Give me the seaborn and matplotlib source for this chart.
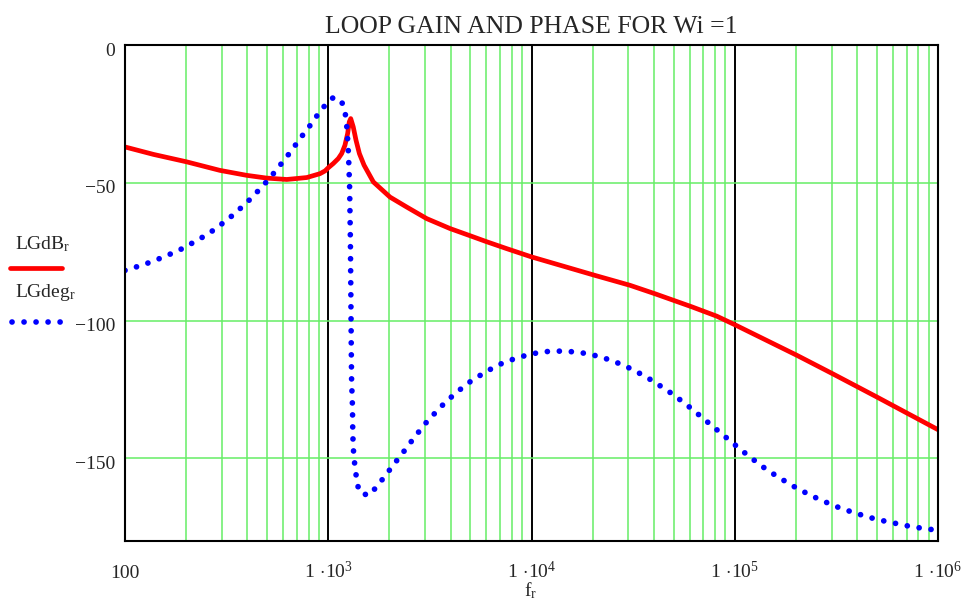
import numpy as np
import pandas as pd
import seaborn as sns
import matplotlib.pyplot as plt
from matplotlib.lines import Line2D
from matplotlib.transforms import ScaledTranslation
from matplotlib.ticker import LogLocator, FixedLocator, NullFormatter

# loop gain magnitude (dB)
f_db = [100, 138, 201, 293, 397, 498, 625, 784, 910, 964, 1002, 1059, 1121,
        1164, 1208, 1246, 1269, 1290, 1327, 1370, 1423, 1500, 1667, 2014, 2432,
        3050, 3971, 4980, 6020, 7550, 10000, 20500, 30500, 40600, 61400, 81500,
        100000, 202000, 303000, 499000, 1000000]
lg_db = [-37.0, -39.7, -42.4, -45.5, -47.3, -48.3, -48.8, -48.1, -46.7, -45.7,
         -44.5, -43.0, -41.2, -39.4, -36.4, -32.1, -27.9, -26.7, -29.7, -34.6,
         -39.4, -43.6, -49.7, -55.2, -58.8, -63.0, -66.6, -69.2, -71.4, -73.9,
         -76.9, -83.6, -87.2, -90.3, -95.0, -98.4, -101.5, -112.6, -119.3,
         -127.7, -139.6]

# loop phase (deg)
f_deg = [100, 114, 130, 148, 168, 190, 214, 240, 270, 301, 336, 372, 411, 451,
         496, 541, 590, 641, 696, 754, 820, 887, 964, 1064, 1169, 1214, 1233,
         1245, 1255, 1262, 1268, 1274, 1285, 1292, 1298, 1303, 1310, 1315, 1318,
         1320, 1325, 1335, 1355, 1380, 1417, 1570, 1731, 1879, 2043, 2221, 2413,
         2621, 2850, 3105, 3420, 3750, 4170, 4630, 5160, 5800, 6510, 7370, 8390,
         9530, 10870, 12450, 14320, 16430, 18760, 21390, 24330, 27660, 31280,
         35300, 39700, 44400, 49700, 55500, 61800, 68600, 76200, 84700, 94000,
         104400, 116400, 129800, 144800, 162200, 182300, 204800, 230800, 260300,
         295600, 336300, 382800, 434600, 496500, 564400, 647100, 738500, 841700,
         968300, 1000000]
lg_deg = [-81.8, -80.5, -79.1, -77.5, -75.8, -74.0, -71.9, -69.8, -67.4, -64.8,
          -62.0, -59.1, -56.1, -53.0, -49.7, -46.4, -42.9, -39.5, -35.9, -32.4,
          -28.9, -25.3, -21.9, -18.9, -20.9, -25.2, -29.5, -34.0, -38.4, -42.8,
          -47.3, -51.8, -70.8, -90.6, -110.5, -122.6, -126.8, -130.9, -135.7,
          -140.0, -144.4, -148.9, -153.3, -157.7, -162.1, -163.5, -160.4, -156.9,
          -153.4, -149.9, -146.5, -142.9, -139.5, -136.1, -132.9, -129.8, -126.8,
          -124.0, -121.4, -119.2, -117.0, -115.1, -113.7, -112.5, -111.6, -111.1,
          -111.1, -111.4, -112.0, -113.0, -114.3, -115.9, -117.7, -119.8, -122.0,
          -124.4, -126.8, -129.5, -132.2, -135.0, -137.8, -140.6, -143.4, -146.2,
          -149.0, -151.7, -154.3, -156.6, -158.9, -161.1, -163.0, -164.9, -166.6,
          -168.3, -169.6, -170.9, -172.1, -173.0, -173.9, -174.8, -175.4, -176.0,
          -176.2]

x_ticks = [1e2, 1e3, 1e4, 1e5, 1e6]
x_labels = ['100', r'$1\,\cdot\!10^{3}$', r'$1\,\cdot\!10^{4}$',
            r'$1\,\cdot\!10^{5}$', r'$1\,\cdot\!10^{6}$']
y_ticks = [0, -50, -100, -150]
y_labels = ['0', '\u221250', '\u2212100', '\u2212150']

sns.set_style('white')
plt.rcParams['font.family'] = ['Liberation Serif', 'DejaVu Serif']
plt.rcParams['mathtext.fontset'] = 'custom'
plt.rcParams['mathtext.rm'] = 'Liberation Serif'
plt.rcParams['mathtext.it'] = 'Liberation Serif'

RED = '#ff0000'
BLUE = '#0000ff'
GREEN = '#66ee66'
DOTS = (0, (0.01, 2.1))

fig = plt.figure(figsize=(9.62, 6.03), dpi=100)
ax = fig.add_axes([125 / 962, 1 - 541 / 603, 813 / 962, 496 / 603])
ax.set_xscale('log')

db = pd.DataFrame({'f': f_db, 'LGdB': lg_db})
deg = pd.DataFrame({'f': f_deg, 'LGdeg': lg_deg})

sns.lineplot(data=db, x='f', y='LGdB', ax=ax, color=RED, linewidth=3.4,
             legend=False, zorder=3)
sns.lineplot(data=deg, x='f', y='LGdeg', ax=ax, color=BLUE, linewidth=4.1,
             linestyle=DOTS, dash_capstyle='round', legend=False, zorder=4)

ax.set_xlim(1e2, 1e6)
ax.set_ylim(-180, 0)

ax.xaxis.set_major_locator(FixedLocator(x_ticks))
ax.xaxis.set_minor_locator(LogLocator(base=10, subs=np.arange(2, 10)))
ax.xaxis.set_minor_formatter(NullFormatter())
ax.set_xticks(x_ticks, x_labels)
ax.set_yticks(y_ticks, y_labels)

ax.grid(which='minor', axis='x', color=GREEN, linewidth=1.1)
ax.grid(which='major', axis='x', color='black', linewidth=1.4)
ax.grid(which='major', axis='y', color=GREEN, linewidth=1.1)
ax.set_axisbelow(True)

ax.tick_params(axis='both', which='both', length=0, labelsize=14)
ax.tick_params(axis='x', pad=26.5)
ax.tick_params(axis='y', pad=7)
for lbl in ax.get_xticklabels():
    lbl.set_verticalalignment('baseline')
# Mathcad puts the y labels a touch below their grid line
shift = ScaledTranslation(0, -3 / 72, fig.dpi_scale_trans)
for lbl in ax.get_yticklabels():
    lbl.set_transform(lbl.get_transform() + shift)

for sp in ax.spines.values():
    sp.set_color('black')
    sp.set_linewidth(1.5)
    sp.set_zorder(5)

ax.set_xlabel('')
ax.set_ylabel('')
ax.set_title('LOOP GAIN AND PHASE FOR Wi =1', fontsize=18.5, pad=8.5)
fig.text(531 / 962, 1 - 596 / 603, r'f$_{\mathrm{r}}$', fontsize=14,
         ha='center', va='baseline')

# legend on the left, label stacked over line sample
fig.text(15 / 962, 1 - 249 / 603, r'LGdB$_{\mathrm{r}}$', fontsize=14,
         ha='left', va='baseline')
fig.add_artist(Line2D([10 / 962, 62 / 962], [1 - 268 / 603, 1 - 268 / 603],
                      transform=fig.transFigure, color=RED, linewidth=3.4))
fig.text(15 / 962, 1 - 297 / 603, r'LGdeg$_{\mathrm{r}}$', fontsize=14,
         ha='left', va='baseline')
fig.add_artist(Line2D([12 / 962, 62 / 962], [1 - 322 / 603, 1 - 322 / 603],
                      transform=fig.transFigure, color=BLUE, linewidth=4.1,
                      linestyle=DOTS, dash_capstyle='round'))

fig.savefig('out.png', dpi=100)
